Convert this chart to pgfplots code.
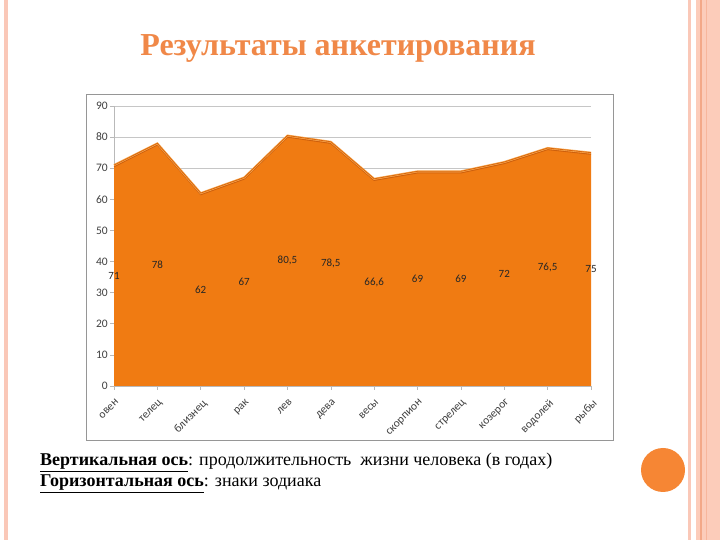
\documentclass[border=0pt]{standalone}
\usepackage{fontspec}
\setmainfont{Liberation Serif}
\newfontfamily\chartfont{Carlito}
\usepackage{pgfplots}
\usepackage{pgfplotstable}
\pgfplotsset{compat=1.18}

\definecolor{areaC}{RGB}{240,123,18}
\definecolor{edgeL}{RGB}{249,170,85}
\definecolor{edgeD}{RGB}{206,96,12}
\definecolor{titleC}{RGB}{240,136,72}
\definecolor{pinkL}{RGB}{250,200,184}
\definecolor{pinkM}{RGB}{252,204,186}
\definecolor{pinkD}{RGB}{243,168,136}
\definecolor{dotC}{RGB}{246,134,52}
\definecolor{frameC}{RGB}{150,150,150}
\definecolor{tickC}{RGB}{64,64,64}

% x: position of the sign, v: age, lab: printed label
\pgfplotstableread{
x  v     lab
0  71    71
1  78    78
2  62    62
3  67    67
4  80.5  80,5
5  78.5  78,5
6  66.6  66,6
7  69    69
8  69    69
9  72    72
10 76.5  76,5
11 75    75
}\agedata

\begin{document}
\begin{tikzpicture}
\useasboundingbox (0bp,0bp) rectangle (720bp,540bp);
\fill[white] (0bp,0bp) rectangle (720bp,540bp);

% slide decoration
\fill[pinkL] (4bp,0bp) rectangle (8bp,540bp);
\fill[pinkL] (688bp,0bp) rectangle (691bp,540bp);
\fill[pinkM] (696bp,0bp) rectangle (720bp,540bp);
\fill[pinkD] (700bp,0bp) rectangle (702bp,540bp);
\fill[pinkD!60!pinkM] (706bp,0bp) rectangle (707bp,540bp);
\fill[dotC] (663bp,70bp) circle (22bp);

\node[anchor=base, text=titleC, font=\fontsize{32bp}{36bp}\selectfont\bfseries]
  at (338bp,484bp) {Результаты анкетирования};

\node[anchor=base west, align=left, inner sep=0pt,
      font=\fontsize{18bp}{21bp}\selectfont] at (40bp,53bp)
  {\underline{\textbf{Вертикальная ось}}: продолжительность\ \ жизни человека (в годах)\\
   \underline{\textbf{Горизонтальная ось}}: знаки зодиака};

\draw[frameC, line width=0.8bp] (86bp,100bp) rectangle (613bp,446bp);

\begin{axis}[
  at={(114bp,154bp)}, anchor=south west,
  scale only axis, width=477bp, height=280bp,
  xmin=0, xmax=11, ymin=0, ymax=90,
  xtick={0,...,11},
  xticklabels={овен,телец,близнец,рак,лев,дева,весы,скорпион,стрелец,козерог,водолей,рыбы},
  ytick={0,10,...,90},
  axis x line*=bottom, axis y line*=left,
  axis line style={gray!55, line width=0.6bp},
  every tick/.style={gray!55, line width=0.6bp},
  tick align=outside, major tick length=4bp,
  ymajorgrids, grid style={gray!45, line width=0.6bp},
  /pgf/number format/assume math mode=true,
  tick label style={text=tickC, font=\chartfont\fontsize{11.5bp}{13bp}\selectfont},
  xticklabel style={xshift=1bp, yshift=-7bp, rotate=45, anchor=north east, inner sep=1bp},
  yticklabel style={inner sep=2bp},
  clip=false]
\addplot[fill=areaC, draw=none] table[x=x, y=v] {\agedata} \closedcycle;
\addplot[draw=edgeD, line width=1bp, yshift=-1.6bp] table[x=x, y=v] {\agedata};
\addplot[draw=edgeL, line width=2bp] table[x=x, y=v] {\agedata};
\addplot[draw=edgeD!70!areaC, line width=0.8bp] table[x=x, y=v] {\agedata};
% labels sit at half height, as in the source chart
\addplot[draw=none, mark=none, nodes near coords, point meta=explicit symbolic,
  every node near coord/.style={anchor=center, text=black!85,
    font=\chartfont\fontsize{11bp}{13bp}\selectfont}]
  table[x=x, y expr=\thisrow{v}/2, meta=lab] {\agedata};
\end{axis}
\end{tikzpicture}
\end{document}
